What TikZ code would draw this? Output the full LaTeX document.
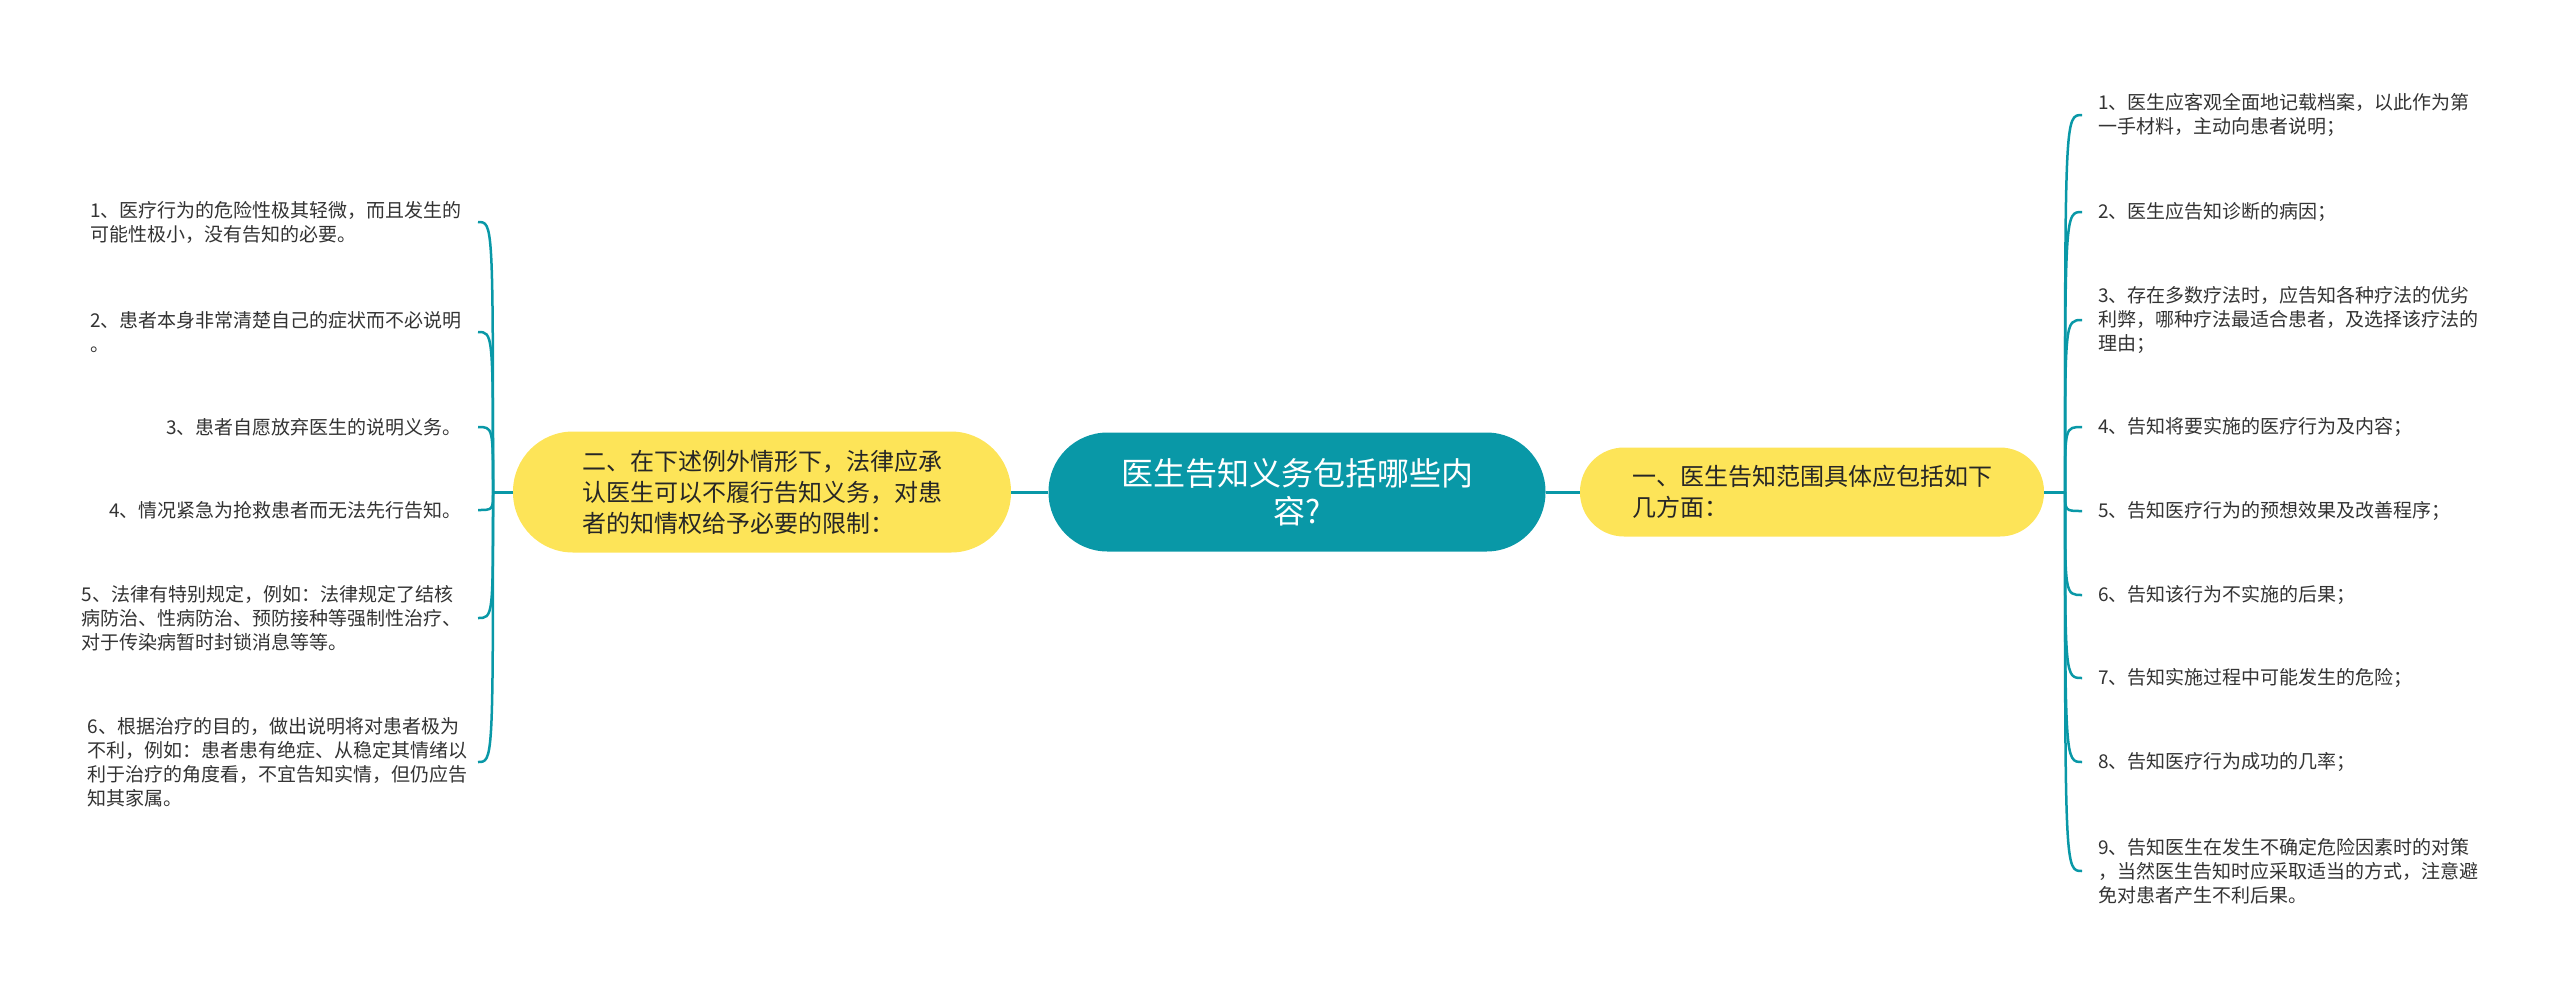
\documentclass[tikz,border=0pt]{standalone}
\usepackage{fontspec}
\setmainfont{Noto Sans CJK SC}
\usepackage{tikz}
\usetikzlibrary{positioning}
\definecolor{tealc}{RGB}{9,152,167}
\definecolor{yellowc}{RGB}{253,228,88}
\definecolor{leaftext}{RGB}{51,51,51}

\begin{document}
\begin{tikzpicture}[x=1pt,y=-1pt,
        topic/.style={fill=tealc,text=white,align=center,rounded corners=59pt,minimum width=497pt,minimum height=119pt,font=\fontsize{32}{38}\selectfont},
        sub/.style={fill=yellowc,text=black!85,align=left,font=\fontsize{24}{31}\selectfont},
        leaf/.style={text=leaftext,align=left,inner xsep=16pt,inner ysep=2pt,font=\fontsize{19}{24}\selectfont},
        link/.style={draw=tealc,line width=3pt},
        branch/.style={draw=tealc,line width=2.5pt}]
        
        \useasboundingbox (0,0) rectangle (2560,997);
        
        \node[topic] (root) at (1297,492) {医生告知义务包括哪些内\\容?};
        \node[sub,minimum width=498pt,minimum height=121pt,rounded corners=60pt] (excep) at (762,492) {二、在下述例外情形下，法律应承\\认医生可以不履行告知义务，对患\\者的知情权给予必要的限制：};
        \node[sub,minimum width=464pt,minimum height=89pt,rounded corners=44pt] (scope) at (1812,492) {一、医生告知范围具体应包括如下\\几方面：};
        
        \coordinate (tl) at (493,492);
        \coordinate (tr) at (2065,492);
        
        \draw[link] (root.west) -- (excep.east);
        \draw[link] (root.east) -- (scope.west);
        \draw[link] (excep.west) -- (tl);
        \draw[link] (scope.east) -- (tr);
        
        % left side
        \node[leaf,anchor=east] (e1) at (478,222) {1、医疗行为的危险性极其轻微，而且发生的\\可能性极小，没有告知的必要。};
        \node[leaf,anchor=east] (e2) at (478,332) {2、患者本身非常清楚自己的症状而不必说明\\。};
        \node[leaf,anchor=east] (e3) at (478,427) {3、患者自愿放弃医生的说明义务。};
        \node[leaf,anchor=east] (e4) at (478,510) {4、情况紧急为抢救患者而无法先行告知。};
        \node[leaf,anchor=east] (e5) at (478,618) {5、法律有特别规定，例如：法律规定了结核\\病防治、性病防治、预防接种等强制性治疗、\\对于传染病暂时封锁消息等等。};
        \node[leaf,anchor=east] (e6) at (484,762) {6、根据治疗的目的，做出说明将对患者极为\\不利，例如：患者患有绝症、从稳定其情绪以\\利于治疗的角度看，不宜告知实情，但仍应告\\知其家属。};
        
        % right side
        \node[leaf,anchor=west] (s1) at (2082,115) {1、医生应客观全面地记载档案，以此作为第\\一手材料，主动向患者说明；};
        \node[leaf,anchor=west] (s2) at (2082,212) {2、医生应告知诊断的病因；};
        \node[leaf,anchor=west] (s3) at (2082,320) {3、存在多数疗法时，应告知各种疗法的优劣\\利弊，哪种疗法最适合患者，及选择该疗法的\\理由；};
        \node[leaf,anchor=west] (s4) at (2082,427) {4、告知将要实施的医疗行为及内容；};
        \node[leaf,anchor=west] (s5) at (2082,511) {5、告知医疗行为的预想效果及改善程序；};
        \node[leaf,anchor=west] (s6) at (2082,595) {6、告知该行为不实施的后果；};
        \node[leaf,anchor=west] (s7) at (2082,678) {7、告知实施过程中可能发生的危险；};
        \node[leaf,anchor=west] (s8) at (2082,762) {8、告知医疗行为成功的几率；};
        \node[leaf,anchor=west] (s9) at (2082,871) {9、告知医生在发生不确定危险因素时的对策\\，当然医生告知时应采取适当的方式，注意避\\免对患者产生不利后果。};
        
        \draw[branch] (tl) .. controls (tl |- e1.east) .. (e1.east);
        \draw[branch] (tl) .. controls (tl |- e2.east) .. (e2.east);
        \draw[branch] (tl) .. controls (tl |- e3.east) .. (e3.east);
        \draw[branch] (tl) .. controls (tl |- e4.east) .. (e4.east);
        \draw[branch] (tl) .. controls (tl |- e5.east) .. (e5.east);
        \draw[branch] (tl) .. controls (tl |- e6.east) .. ([xshift=-6pt]e6.east);
        
        \draw[branch] (tr) .. controls (tr |- s1.west) .. (s1.west);
        \draw[branch] (tr) .. controls (tr |- s2.west) .. (s2.west);
        \draw[branch] (tr) .. controls (tr |- s3.west) .. (s3.west);
        \draw[branch] (tr) .. controls (tr |- s4.west) .. (s4.west);
        \draw[branch] (tr) .. controls (tr |- s5.west) .. (s5.west);
        \draw[branch] (tr) .. controls (tr |- s6.west) .. (s6.west);
        \draw[branch] (tr) .. controls (tr |- s7.west) .. (s7.west);
        \draw[branch] (tr) .. controls (tr |- s8.west) .. (s8.west);
        \draw[branch] (tr) .. controls (tr |- s9.west) .. (s9.west);
        
    \end{tikzpicture}
\end{document}
